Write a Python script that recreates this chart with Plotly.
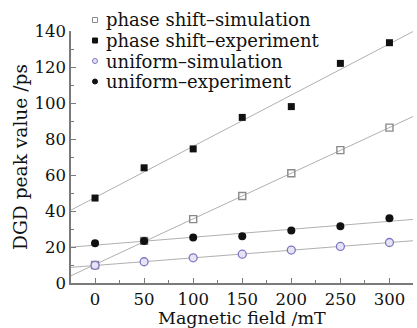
import numpy as np
import plotly.graph_objects as go

# Magnetic field steps (mT)
field = [0, 50, 100, 150, 200, 250, 300]

# DGD peak values (ps)
phase_shift_sim = [10.0, 23.4, 35.5, 48.3, 61.0, 73.8, 86.3]
phase_shift_exp = [47.2, 64.0, 74.5, 92.0, 98.0, 122.0, 133.5]
uniform_sim = [9.8, 11.8, 14.0, 16.0, 18.3, 20.3, 22.5]
uniform_exp = [22.1, 23.4, 25.3, 26.0, 29.2, 31.5, 36.0]

x_ticks = [0, 50, 100, 150, 200, 250, 300]
y_ticks = [0, 20, 40, 60, 80, 100, 120, 140]

x_range = [-24.5, 324]
y_range = [0, 140]

FONT = "DejaVu Serif"
LINE = "#b0b0b0"

# plot area in pixels (used to place the compact legend and x title)
W, H = 417, 328
ML, MR, MT, MB = 71, 4, 31, 45
PW, PH = W - ML - MR, H - MT - MB

series = [
    ("phase shift–simulation", phase_shift_sim,
     dict(symbol="square-open", color="#8a8a8a", size=7, line=dict(width=1.4, color="#8a8a8a")),
     dict(type="rect", fill="white", line="#8a8a8a")),
    ("phase shift–experiment", phase_shift_exp,
     dict(symbol="square", color="#111111", size=7),
     dict(type="rect", fill="#111111", line="#111111")),
    ("uniform–simulation", uniform_sim,
     dict(symbol="circle", color="#e6e4f4", size=8, line=dict(width=1.3, color="#7c78c4")),
     dict(type="circle", fill="#e6e4f4", line="#7c78c4")),
    ("uniform–experiment", uniform_exp,
     dict(symbol="circle", color="#111111", size=8),
     dict(type="circle", fill="#111111", line="#111111")),
]

fig = go.Figure()

# least-squares fit lines across the whole axis
xs = np.array(field, dtype=float)
xl = np.array(x_range)
for name, ys, _, _ in series:
    k, b = np.polyfit(xs, np.array(ys), 1)
    fig.add_trace(go.Scatter(x=xl, y=k * xl + b, mode="lines",
                             line=dict(color=LINE, width=1), showlegend=False,
                             hoverinfo="skip"))

# data markers
for name, ys, mk, _ in series:
    fig.add_trace(go.Scatter(x=field, y=ys, mode="markers", marker=mk,
                             name=name, showlegend=False))

# compact legend: small symbol + label per row
sym_x = (95 - ML) / PW
txt_x = (104 - ML) / PW
row_y = [20, 40.5, 61, 81.5]
for (name, _, _, sym), yc in zip(series, row_y):
    yp = (H - MB - yc) / PH
    fig.add_shape(type=sym["type"], xref="paper", yref="paper",
                  xsizemode="pixel", ysizemode="pixel",
                  xanchor=sym_x, yanchor=yp, x0=-2.5, x1=2.5, y0=-2.5, y1=2.5,
                  fillcolor=sym["fill"], line=dict(color=sym["line"], width=1))
    fig.add_annotation(text=name, xref="paper", yref="paper", x=txt_x, y=yp,
                       xanchor="left", yanchor="middle", showarrow=False,
                       font=dict(family=FONT, size=18, color="#111"))

# x-axis title pinned to the bottom edge
fig.add_annotation(text="Magnetic field /mT", xref="paper", yref="paper",
                   x=0.5, y=-(MB + 1) / PH, xanchor="center", yanchor="bottom",
                   showarrow=False, borderpad=0,
                   font=dict(family=FONT, size=17.5, color="#111"))

axis_common = dict(
    showline=True, linecolor="#7a7a7a", linewidth=1.5,
    ticks="inside", ticklen=5, tickwidth=1.2, tickcolor="#7a7a7a",
    showgrid=False, zeroline=False,
    tickfont=dict(family=FONT, size=16.5, color="#111"),
)

fig.update_xaxes(
    range=x_range, tickvals=x_ticks, **axis_common,
    minor=dict(dtick=25, tick0=0, ticks="inside", ticklen=3, tickcolor="#7a7a7a", showgrid=False),
)
fig.update_yaxes(
    range=y_range, tickvals=y_ticks, **axis_common,
    minor=dict(dtick=10, tick0=0, ticks="inside", ticklen=3, tickcolor="#7a7a7a", showgrid=False),
    title=dict(text="DGD peak value /ps", font=dict(family=FONT, size=18.6, color="#111"), standoff=2),
)

fig.update_layout(
    width=W, height=H,
    margin=dict(l=ML, r=MR, t=MT, b=MB),
    paper_bgcolor="white", plot_bgcolor="white",
    showlegend=False,
)

fig.write_html("out.html")
